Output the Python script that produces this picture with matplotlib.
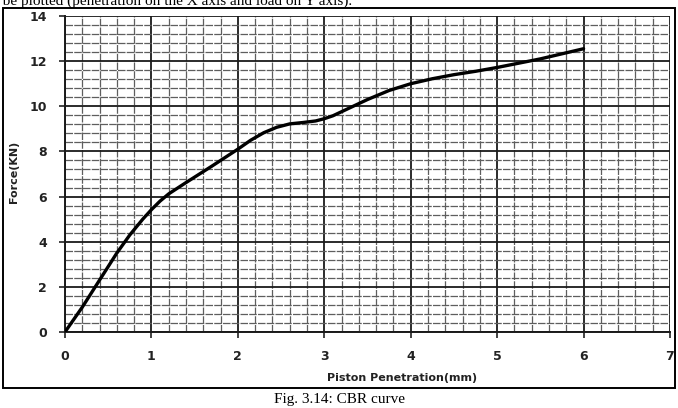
import matplotlib.pyplot as plt
import matplotlib.patches as patches
import numpy as np

# piston penetration (mm) vs force (kN)
penetration = [0, 0.1, 0.2, 0.35, 0.5, 0.6, 0.75, 0.9, 1.0, 1.1, 1.2, 1.4, 1.7, 2.0,
               2.15, 2.3, 2.45, 2.6, 2.75, 2.9, 3.0, 3.1, 3.25, 3.5, 3.75, 4.0,
               4.25, 4.5, 4.75, 5.0, 5.5, 6.0]
force = [0, 0.55, 1.1, 2.0, 2.9, 3.5, 4.3, 5.0, 5.42, 5.8, 6.12, 6.62, 7.35, 8.1,
         8.5, 8.83, 9.07, 9.22, 9.28, 9.35, 9.45, 9.58, 9.85, 10.3, 10.7, 11.0,
         11.22, 11.4, 11.55, 11.72, 12.1, 12.55]

x_ticks = [0, 1, 2, 3, 4, 5, 6, 7]
y_ticks = [0, 2, 4, 6, 8, 10, 12, 14]

W, H = 678, 408
fig = plt.figure(figsize=(W / 100, H / 100), dpi=100)
ax = fig.add_axes([65 / W, 1 - 332 / H, (670 - 65) / W, (332 - 16) / H])

# grid paper look
ax.set_xticks(np.arange(0, 7.01, 0.2), minor=True)
ax.set_yticks(np.arange(0, 14.01, 0.4), minor=True)
ax.grid(which='minor', color='#5e5e5e', linewidth=0.9, linestyle=(0, (6, 1)))
ax.grid(which='major', color='#1a1a1a', linewidth=1.3)
ax.set_axisbelow(True)

ax.plot(penetration, force, color='black', linewidth=2.4, solid_capstyle='round',
        solid_joinstyle='round', zorder=3)

ax.set_xlim(0, 7)
ax.set_ylim(0, 14)
ax.set_xticks(x_ticks)
ax.set_yticks(y_ticks)
ax.tick_params(which='minor', length=0)
ax.tick_params(which='major', length=4, width=1.2, color='#222222', labelsize=9, pad=9)
for lab in ax.get_xticklabels() + ax.get_yticklabels():
    lab.set_fontweight('bold')
    lab.set_color('#222222')
for s in ['top', 'right']:
    ax.spines[s].set_visible(False)
for s in ['left', 'bottom']:
    ax.spines[s].set_linewidth(1.4)
    ax.spines[s].set_color('#1a1a1a')

fig.text(402 / W, 1 - 378 / H, 'Piston Penetration(mm)', ha='center', va='center',
         fontsize=8, fontweight='bold', color='#222222')
fig.text(14 / W, 1 - 172 / H, 'Force(KN)', ha='center', va='center', rotation=90,
         fontsize=8, fontweight='bold', color='#222222')

# chart frame
fig.add_artist(patches.Rectangle((3 / W, 1 - 388 / H), 672 / W, 380 / H,
                                 transform=fig.transFigure, fill=False,
                                 edgecolor='black', linewidth=1.4))

fig.text(340 / W, 1 - 399 / H, 'Fig. 3.14: CBR curve', ha='center', va='center',
         fontsize=11, family='Liberation Serif')
# sentence from the page above the figure, cut off by the crop
fig.text(352 / W, 1 - 5 / H, 'Curve shall be plotted (penetration on the X axis and load on Y axis).',
         ha='right', va='baseline', fontsize=11, family='Liberation Serif')

fig.savefig('out.png', dpi=100)
